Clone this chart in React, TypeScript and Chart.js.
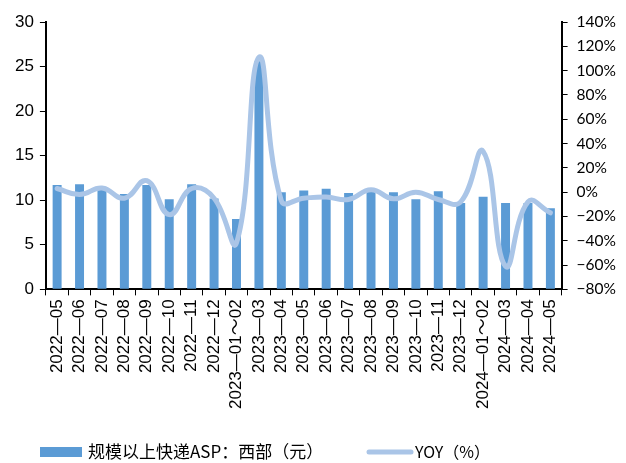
import React, { useEffect, useRef } from "react";
import { Chart, registerables } from "chart.js";

Chart.register(...registerables);

const categories = [
  "2022—05", "2022—06", "2022—07", "2022—08", "2022—09", "2022—10", "2022—11", "2022—12",
  "2023—01～02", "2023—03", "2023—04", "2023—05", "2023—06", "2023—07", "2023—08", "2023—09",
  "2023—10", "2023—11", "2023—12", "2024—01～02", "2024—03", "2024—04", "2024—05",
];
const aspWest = [
  11.7, 11.8, 11.5, 10.7, 11.7, 10.1, 11.8, 10.2, 7.9, 25.6, 10.9, 11.1, 11.3,
  10.8, 11.0, 10.9, 10.1, 11.0, 9.7, 10.4, 9.7, 9.7, 9.1,
];
const yoy = [
  3, -2, 3.4, -5, 9.4, -18.5, 3, -5, -41.7, 111, -7, -5, -4,
  -6, 2, -5.5, 0, -6, -8, 33.5, -61, -8, -17,
];
const leftTicks = [0, 5, 10, 15, 20, 25, 30];
const rightTicks = [-80, -60, -40, -20, 0, 20, 40, 60, 80, 100, 120, 140];
const legendLabels = ["规模以上快递ASP：西部（元）", "YOY（%）"];

const BAR_COLOR = "#5B9BD5";
const LINE_COLOR = "#AAC5E7";

const legendPlugin = {
  id: "customLegend",
  afterDraw(chart: any) {
    const ctx = chart.ctx;
    ctx.save();
    const y = 452;
    ctx.fillStyle = BAR_COLOR;
    ctx.fillRect(40, 447, 42, 10);
    ctx.font = '17px "Noto Sans CJK SC", sans-serif';
    ctx.fillStyle = "#000";
    ctx.textBaseline = "middle";
    ctx.textAlign = "left";
    ctx.fillText(legendLabels[0], 88, y);
    ctx.strokeStyle = LINE_COLOR;
    ctx.lineWidth = 5;
    ctx.lineCap = "round";
    ctx.beginPath();
    ctx.moveTo(369, y);
    ctx.lineTo(411, y);
    ctx.stroke();
    ctx.font = '16px "Noto Sans CJK SC", sans-serif';
    ctx.fillText(legendLabels[1], 415, y);
    ctx.restore();
  },
};

export default function App() {
  const ref = useRef<HTMLCanvasElement>(null);
  useEffect(() => {
    document.body.style.margin = "0";
    const chart = new Chart(ref.current as HTMLCanvasElement, {
      type: "bar",
      data: {
        labels: categories,
        datasets: [
          {
            type: "line",
            label: legendLabels[1],
            data: yoy,
            yAxisID: "y1",
            borderColor: LINE_COLOR,
            backgroundColor: LINE_COLOR,
            borderWidth: 5,
            tension: 0.45,
            pointRadius: 0,
            borderCapStyle: "round",
            order: 1,
          } as any,
          {
            type: "bar",
            label: legendLabels[0],
            data: aspWest,
            yAxisID: "y",
            backgroundColor: BAR_COLOR,
            categoryPercentage: 1,
            barPercentage: 0.4,
            order: 2,
          },
        ],
      },
      options: {
        animation: false,
        responsive: false,
        maintainAspectRatio: false,
        layout: { padding: { left: 9, right: 1, top: 22, bottom: 50 } },
        plugins: { legend: { display: false }, tooltip: { enabled: false } },
        scales: {
          x: {
            grid: { display: true, drawOnChartArea: false, color: "#000", tickLength: 6, offset: true },
            border: { color: "#000", width: 2 },
            ticks: {
              autoSkip: false,
              maxRotation: 90,
              minRotation: 90,
              color: "#000",
              padding: 4,
              font: { family: '"Liberation Sans", "Noto Sans CJK SC", sans-serif', size: 17 },
            },
          },
          y: {
            position: "left",
            min: 0,
            max: 30,
            afterBuildTicks: (axis: any) => {
              axis.ticks = leftTicks.map((v) => ({ value: v }));
            },
            grid: { display: true, drawOnChartArea: false, color: "#000", tickLength: 6 },
            border: { color: "#000", width: 2 },
            ticks: {
              color: "#000",
              padding: 6,
              font: { family: '"Liberation Sans", sans-serif', size: 17 },
            },
          },
          y1: {
            position: "right",
            min: -80,
            max: 140,
            afterBuildTicks: (axis: any) => {
              axis.ticks = rightTicks.map((v) => ({ value: v }));
            },
            grid: { display: true, drawOnChartArea: false, color: "#000", tickLength: 6 },
            border: { color: "#000", width: 2 },
            ticks: {
              color: "#000",
              padding: 9,
              callback: (v: any) => (Number(v) < 0 ? "−" + Math.abs(Number(v)) : v) + "%",
              font: { family: 'Lato, "Open Sans", sans-serif', size: 15.5 },
            },
          },
        },
      },
      plugins: [legendPlugin],
    });
    return () => chart.destroy();
  }, []);
  return (
    <div style={{ width: 626, height: 463, position: "relative", background: "#fff" }}>
      <canvas ref={ref} width={626} height={463} style={{ width: 626, height: 463 }} />
    </div>
  );
}
